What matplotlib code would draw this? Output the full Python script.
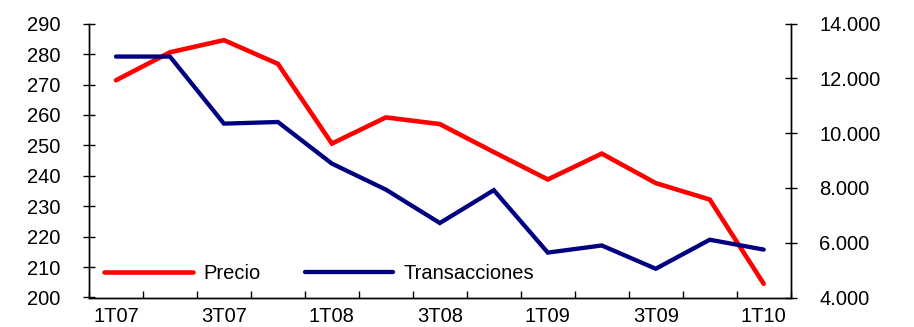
import matplotlib
matplotlib.use("Agg")
import matplotlib.pyplot as plt
from matplotlib.ticker import FuncFormatter, FixedLocator

quarters = ["1T07", "2T07", "3T07", "4T07", "1T08", "2T08", "3T08",
            "4T08", "1T09", "2T09", "3T09", "4T09", "1T10"]
precio = [271.4, 280.6, 284.6, 276.8, 250.6, 259.2, 257.0,
          247.8, 238.8, 247.3, 237.6, 232.2, 204.5]
transacciones = [12800, 12800, 10350, 10410, 8890, 7940, 6720,
                 7920, 5640, 5900, 5050, 6110, 5750]
left_ticks = list(range(200, 291, 10))
right_ticks = list(range(4000, 14001, 2000))

plt.rcParams["font.family"] = ["Liberation Sans", "DejaVu Sans"]
FS = 14.5

fig = plt.figure(figsize=(9.14, 3.27), dpi=100)
W, H = 914, 327
ax = fig.add_axes([89 / W, 29.5 / H, (790.7 - 89) / W, (297.5 - 23.7) / H])
ax2 = ax.twinx()

x = list(range(len(quarters)))
l1, = ax.plot(x, precio, color="#FF0000", lw=3.3, label="Precio",
              solid_capstyle="round", solid_joinstyle="miter")
l2, = ax2.plot(x, transacciones, color="#000080", lw=3.1, label="Transacciones",
               solid_capstyle="round", solid_joinstyle="miter")

ax.set_xlim(-0.5, len(quarters) - 0.5)
ax.set_ylim(200, 290)
ax2.set_ylim(4000, 14000)

for a in (ax, ax2):
    a.spines["top"].set_visible(False)
    for s in a.spines.values():
        s.set_linewidth(1.0)
        s.set_color("black")

ax.set_yticks(left_ticks)
ax.tick_params(axis="y", direction="inout", length=9, width=1, labelsize=FS, pad=16)
ax2.set_yticks(right_ticks)
ax2.yaxis.set_major_formatter(FuncFormatter(lambda v, p: f"{int(v):,}".replace(",", ".")))
ax2.tick_params(axis="y", direction="inout", length=9, width=1, labelsize=FS, pad=16)

# category boundaries as tick marks, labels on every second category
ax.xaxis.set_major_locator(FixedLocator([i - 0.5 for i in range(len(quarters) + 1)]))
ax.xaxis.set_major_formatter(FuncFormatter(lambda v, p: ""))
ax.tick_params(axis="x", which="major", direction="in", length=5, width=1)
label_pos = x[::2]
ax.xaxis.set_minor_locator(FixedLocator(label_pos))
ax.set_xticklabels([quarters[i] for i in label_pos], minor=True)
ax.tick_params(axis="x", which="minor", length=0, labelsize=FS, pad=6.5)

ax.legend(handles=[l1, l2], loc="center left", bbox_to_anchor=(0.022, 0.088),
          ncol=2, frameon=False, fontsize=FS, handlelength=4.4,
          handletextpad=0.5, columnspacing=2.2, borderpad=0, borderaxespad=0)

fig.savefig("out.png", dpi=100)
